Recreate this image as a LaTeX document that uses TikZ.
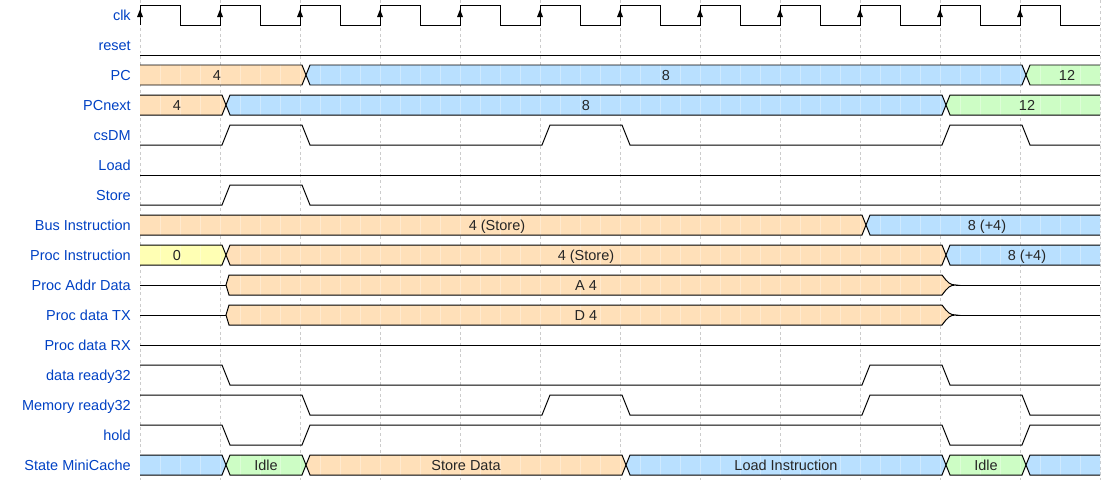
\documentclass[tikz,border=0pt]{standalone}
\usepackage{fontspec}
\setmainfont{Liberation Sans}
\usetikzlibrary{calc}
\definecolor{sigLabel}{RGB}{0,65,196}
\definecolor{busYellow}{RGB}{255,255,180}
\definecolor{busOrange}{RGB}{255,224,185}
\definecolor{busBlue}{RGB}{185,224,255}
\definecolor{busGreen}{RGB}{205,253,197}
\definecolor{gridGray}{RGB}{204,204,204}

\begin{document}
\begin{tikzpicture}[
    x=0.025cm,y=-0.025cm,
    line join=miter,
    every node/.style={font=\fontsize{10.3}{12}\selectfont,inner sep=0pt},
    wave/.style={line width=0.71pt,draw=black},
    bus/.style={line width=0.71pt,draw=black},
    stripes/.style={
        path picture={
            \foreach \sx in {160,180,...,1080}{
                \draw[white,opacity=0.3,line width=0.71pt] (\sx,-5) -- (\sx,25);
            }
        }
    },
    gridline/.style={draw=gridGray,line width=0.45pt,dash pattern=on 2pt off 2pt},
    clkarrow/.style={fill=black},
    siglab/.style={anchor=base east,text=sigLabel},
    celltext/.style={anchor=base,text=black!85}
]

\useasboundingbox (0,0) rectangle (1120,480);

% ============================================================
% bus cells (row top = 0, middle = 10, bottom = 20)
% ============================================================

\newcommand{\BusHead}[4]{%
    \filldraw[bus,fill=#2,stripes]
        (140,0) -- (#1+2,0) -- (#1+6,10) -- (#1+2,20) -- (140,20);
    \node[celltext] (#3) at ({(140+#1)/2-3},15.5) {#4};
}

\newcommand{\BusBody}[5]{%
    \filldraw[bus,fill=#3,stripes]
        (#1+6,10) -- (#1+10,0) -- (#2+2,0) -- (#2+6,10)
        -- (#2+2,20) -- (#1+10,20) -- cycle;
    \node[celltext] (#4) at ({(#1+#2)/2+6},15.5) {#5};
}

\newcommand{\BusTail}[4]{%
    \filldraw[bus,fill=#2,stripes]
        (1100,0) -- (#1+10,0) -- (#1+6,10) -- (#1+10,20) -- (1100,20);
    \node[celltext] (#3) at ({(#1+1100)/2+7},15.5) {#4};
}

\newcommand{\BusFromZ}[5]{%
    \draw[wave] (140,10) -- (#1+6,10);
    \filldraw[bus,fill=#3,stripes]
        (#1+6,10) -- (#1+9,0) -- (#2+2,0)
        .. controls (#2+8,8) and (#2+10,10) .. (#2+16,10)
        .. controls (#2+10,10) and (#2+8,12) .. (#2+2,20)
        -- (#1+9,20) -- cycle;
    \draw[wave] (#2+16,10) -- (1100,10);
    \node[celltext] (#4) at ({(#1+#2)/2+6},15.5) {#5};
}

% ============================================================
% grid and labels
% ============================================================

\foreach \gx in {140,220,...,1100}
    \draw[gridline] (\gx,0) -- (\gx,480);

\foreach \lab [count=\i from 0] in {clk,reset,PC,PCnext,csDM,Load,Store,
    Bus Instruction,Proc Instruction,Proc Addr Data,Proc data TX,
    Proc data RX,data ready32,Memory ready32,hold,State MiniCache}
    \node[siglab] (lab\i) at (131,{20.5+30*\i}) {\lab};

% ============================================================
% clk, reset
% ============================================================

\begin{scope}[shift={(0,5)}]
    \draw[wave] (140,20)
        \foreach \k in {0,...,11} {-- ++(0,-20) -- ++(40,0) -- ++(0,20) -- ++(40,0)};
    \foreach \k in {0,...,11}
        \fill[clkarrow] ({140+80*\k},4.5) -- ({137+80*\k},12) -- ({143+80*\k},12) -- cycle;
\end{scope}

\begin{scope}[shift={(0,35)}]
    \draw[wave] (140,20) -- (1100,20);
\end{scope}

% ============================================================
% PC, PCnext
% ============================================================

\begin{scope}[shift={(0,65)}]
    \BusHead{300}{busOrange}{pc-a}{4}
    \BusBody{300}{1020}{busBlue}{pc-b}{8}
    \BusTail{1020}{busGreen}{pc-c}{12}
\end{scope}

\begin{scope}[shift={(0,95)}]
    \BusHead{220}{busOrange}{pcn-a}{4}
    \BusBody{220}{940}{busBlue}{pcn-b}{8}
    \BusTail{940}{busGreen}{pcn-c}{12}
\end{scope}

% ============================================================
% csDM, Load, Store
% ============================================================

\begin{scope}[shift={(0,125)}]
    \draw[wave] (140,20) -- (222,20) -- (230,0) -- (302,0) -- (310,20)
        -- (542,20) -- (550,0) -- (622,0) -- (630,20)
        -- (942,20) -- (950,0) -- (1022,0) -- (1030,20) -- (1100,20);
\end{scope}

\begin{scope}[shift={(0,155)}]
    \draw[wave] (140,20) -- (1100,20);
\end{scope}

\begin{scope}[shift={(0,185)}]
    \draw[wave] (140,20) -- (222,20) -- (230,0) -- (302,0) -- (310,20) -- (1100,20);
\end{scope}

% ============================================================
% instructions and data
% ============================================================

\begin{scope}[shift={(0,215)}]
    \BusHead{860}{busOrange}{bi-a}{4 (Store)}
    \BusTail{860}{busBlue}{bi-b}{8 (+4)}
\end{scope}

\begin{scope}[shift={(0,245)}]
    \BusHead{220}{busYellow}{pi-a}{0}
    \BusBody{220}{940}{busOrange}{pi-b}{4 (Store)}
    \BusTail{940}{busBlue}{pi-c}{8 (+4)}
\end{scope}

\begin{scope}[shift={(0,275)}]
    \BusFromZ{220}{940}{busOrange}{pad-a}{A 4}
\end{scope}

\begin{scope}[shift={(0,305)}]
    \BusFromZ{220}{940}{busOrange}{ptx-a}{D 4}
\end{scope}

\begin{scope}[shift={(0,335)}]
    \draw[wave] (140,10) -- (1100,10);
\end{scope}

% ============================================================
% ready, hold
% ============================================================

\begin{scope}[shift={(0,365)}]
    \draw[wave] (140,0) -- (222,0) -- (230,20) -- (862,20) -- (870,0)
        -- (942,0) -- (950,20) -- (1100,20);
\end{scope}

\begin{scope}[shift={(0,395)}]
    \draw[wave] (140,0) -- (302,0) -- (310,20) -- (542,20) -- (550,0)
        -- (622,0) -- (630,20) -- (862,20) -- (870,0)
        -- (1022,0) -- (1030,20) -- (1100,20);
\end{scope}

\begin{scope}[shift={(0,425)}]
    \draw[wave] (140,0) -- (222,0) -- (230,20) -- (302,20) -- (310,0)
        -- (942,0) -- (950,20) -- (1022,20) -- (1030,0) -- (1100,0);
\end{scope}

% ============================================================
% State MiniCache
% ============================================================

\begin{scope}[shift={(0,455)}]
    \BusHead{220}{busBlue}{st-a}{}
    \BusBody{220}{300}{busGreen}{st-b}{Idle}
    \BusBody{300}{620}{busOrange}{st-c}{Store Data}
    \BusBody{620}{940}{busBlue}{st-d}{Load Instruction}
    \BusBody{940}{1020}{busGreen}{st-e}{Idle}
    \BusTail{1020}{busBlue}{st-f}{}
\end{scope}

\end{tikzpicture}
\end{document}
